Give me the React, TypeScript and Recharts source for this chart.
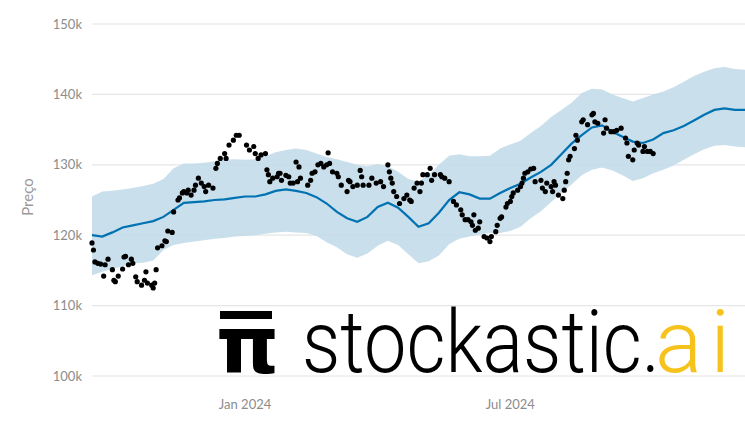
import React from "react";
import {
  ComposedChart,
  Area,
  Line,
  Scatter,
  XAxis,
  YAxis,
  CartesianGrid,
} from "recharts";

const DAY = 86400000;
const START = Date.UTC(2023, 8, 18);

// weekly forecast (yhat + interval), in thousands
const fcYhat = [
  120.0, 119.8, 120.4, 121.1, 121.4, 121.7, 122.0, 122.6, 123.6, 124.6,
  124.7, 124.8, 125.0, 125.1, 125.3, 125.5, 125.5, 125.8, 126.3, 126.5,
  126.3, 126.0, 125.4, 124.5, 123.3, 122.4, 121.9, 122.6, 124.0, 124.6,
  123.9, 122.6, 121.2, 121.7, 123.2, 125.0, 126.1, 125.8, 125.2, 125.2,
  126.0, 126.7, 127.3, 128.2, 129.0, 130.0, 131.5, 133.0, 134.2, 135.3,
  135.6, 134.7, 134.0, 133.3, 133.1, 133.6, 134.5, 134.9, 135.5, 136.3,
  137.1, 137.8, 138.0, 137.8, 137.8,
];
const fcUpper = [
  125.5, 126.2, 126.3, 126.5, 126.7, 127.0, 127.3, 128.0, 129.5, 130.2,
  130.2, 130.3, 130.5, 130.7, 130.8, 130.7, 130.8, 131.2, 131.8, 132.1,
  132.3, 132.1, 131.6, 131.1, 130.8, 130.4, 130.0, 129.8, 130.1, 129.8,
  129.0, 128.0, 127.6, 128.6, 130.0, 131.3, 131.5, 131.2, 131.2, 131.3,
  132.3, 132.9, 133.4, 134.5, 135.5, 136.8, 137.8, 138.8, 140.2, 140.8,
  140.7, 140.0, 139.5, 139.0, 139.5, 140.0, 140.4, 141.0, 141.8, 142.6,
  143.2, 143.7, 143.9, 143.6, 143.5,
];
const fcLower = [
  114.3, 114.8, 115.2, 115.6, 116.0, 116.1, 116.4, 117.9, 118.6, 118.9,
  119.1, 119.3, 119.5, 119.6, 119.8, 119.9, 120.0, 120.2, 120.4, 120.5,
  120.4, 120.3, 119.9, 119.0, 118.3, 117.3, 116.8, 117.4, 118.5, 119.2,
  118.6, 117.3, 116.0, 116.3, 117.1, 118.7, 119.5, 119.8, 120.1, 120.3,
  120.3, 120.6, 121.2, 122.4, 123.4, 124.7, 126.0, 127.2, 128.5, 129.3,
  129.6, 129.2, 128.5, 127.7, 128.1, 128.8, 129.3, 129.9, 130.7, 131.5,
  132.2, 132.7, 132.8, 132.6, 132.5,
];

// observed prices: day offset from START, price in thousands
const obsDay = [
  0, 1, 2, 4, 6, 8, 9, 11, 14, 15, 16, 18, 21, 22, 23, 25, 27, 28, 30, 31,
  34, 36, 37, 38, 41, 42, 43, 44, 45, 48, 50, 51, 52, 55, 56, 59, 60, 62, 63, 65,
  66, 68, 70, 71, 73, 75, 77, 78, 80, 83, 85, 86, 88, 91, 92, 94, 97, 99, 101, 106,
  108, 111, 112, 114, 116, 119, 120, 121, 122, 124, 127, 128, 129, 130, 133, 135, 136, 138, 140, 141,
  142, 143, 148, 150, 151, 153, 155, 157, 159, 161, 162, 163, 165, 168, 169, 171, 175, 176, 177, 179,
  182, 184, 185, 186, 190, 192, 195, 198, 200, 203, 204, 205, 206, 207, 209, 211, 214, 216, 218, 219,
  221, 223, 225, 226, 227, 230, 232, 233, 235, 239, 240, 242, 245, 248, 250, 253, 254, 256, 258, 260,
  261, 262, 263, 265, 266, 269, 271, 273, 274, 277, 278, 280, 281, 284, 285, 287, 288, 289, 292, 294,
  295, 296, 297, 299, 301, 303, 304, 308, 309, 311, 312, 315, 316, 317, 318, 320, 323, 324, 325, 326,
  327, 328, 331, 332, 333, 336, 337, 340, 343, 344, 345, 347, 351, 352, 353, 356, 358, 360, 363, 366,
  367, 368, 371, 372, 374, 375, 378, 379, 381, 383, 385,
];
const obsPrice = [
  118.9, 117.9, 116.2, 116.0, 115.9, 114.2, 115.8, 116.6, 115.1, 113.6, 113.4, 114.2, 115.2, 116.9, 117.0, 115.8, 116.6, 116.0, 114.1, 113.4,
  112.9, 113.6, 114.8, 113.2, 112.9, 112.5, 113.2, 115.1, 118.2, 118.5, 119.2, 119.1, 120.6, 120.4, 123.3, 125.0, 125.3, 126.0, 126.2, 126.0,
  126.4, 125.7, 126.4, 127.1, 128.1, 127.4, 126.9, 126.2, 127.1, 126.7, 129.5, 130.2, 130.9, 131.6, 130.9, 132.8, 133.5, 134.2, 134.2, 132.8,
  132.1, 132.6, 131.6, 130.9, 131.4, 131.6, 129.3, 128.6, 127.6, 128.1, 128.3, 128.8, 128.8, 127.8, 128.5, 128.3, 127.4, 127.4, 130.4, 127.6,
  129.7, 128.1, 127.1, 127.8, 128.8, 129.0, 130.0, 130.2, 129.7, 130.0, 131.7, 130.2, 129.0, 128.8, 128.3, 127.1, 126.2, 127.8, 127.6, 126.9,
  127.1, 129.2, 128.3, 127.1, 127.1, 128.1, 127.4, 127.6, 126.9, 130.0, 129.0, 128.1, 127.4, 126.2, 125.5, 124.5, 125.2, 125.7, 125.0, 124.8,
  126.7, 127.4, 126.2, 127.4, 128.6, 128.6, 129.5, 127.8, 128.6, 128.6, 128.3, 128.1, 127.6, 124.8, 124.3, 123.6, 122.9, 122.2, 122.2, 121.9,
  121.4, 122.9, 120.7, 121.0, 121.9, 119.8, 119.6, 119.1, 119.8, 120.5, 121.4, 122.4, 122.6, 124.0, 124.5, 124.8, 125.5, 126.0, 126.4, 126.9,
  127.4, 128.1, 128.8, 129.0, 129.4, 129.5, 127.6, 127.8, 126.7, 126.2, 127.4, 126.9, 126.2, 127.6, 127.1, 125.7, 125.2, 126.4, 127.6, 128.8,
  130.7, 131.2, 132.3, 134.2, 133.5, 136.1, 136.4, 135.7, 137.1, 137.3, 136.1, 135.9, 134.5, 136.4, 135.2, 134.7, 134.7, 134.9, 135.2, 133.8,
  133.1, 131.2, 130.7, 132.1, 133.1, 132.8, 131.9, 132.6, 131.9, 131.9, 131.6,
];

const xTicks = [Date.UTC(2024, 0, 1), Date.UTC(2024, 6, 1)];
const xTickLabels = ["Jan 2024", "Jul 2024"];
const yTicks = [100000, 110000, 120000, 130000, 140000, 150000];

const forecast = fcYhat.map((v, i) => ({
  t: START + i * 7 * DAY,
  yhat: v * 1000,
  band: [fcLower[i] * 1000, fcUpper[i] * 1000],
}));

const observed = obsDay.map((d, i) => ({
  t: START + d * DAY,
  price: obsPrice[i] * 1000,
}));

const tickStyle = { fill: "#8c8c8c", fontSize: 13, fontFamily: "Lato" };

const PriceLabel = (props: any) => {
  const vb = props.viewBox || {};
  const cx = 27;
  const cy = vb.y + vb.height / 2 - 3;
  return (
    <text
      x={cx}
      y={cy}
      transform={`rotate(-90 ${cx} ${cy})`}
      textAnchor="middle"
      dominantBaseline="central"
      fill="#9a9a9a"
      fontSize={15}
      fontFamily="Lato"
    >
      Preço
    </text>
  );
};

const Dot = (p: any) => <circle cx={p.cx} cy={p.cy} r={2.6} fill="#000" />;

export default function App() {
  return (
    <div style={{ position: "fixed", left: 0, top: 0, width: 745, height: 422, background: "#fff" }}>
      <ComposedChart
        width={745}
        height={422}
        data={forecast}
        margin={{ top: 24, right: 0, bottom: 16, left: 0 }}
      >
        <CartesianGrid vertical={false} stroke="#e6e6e6" strokeWidth={1.2} />
        <XAxis
          dataKey="t"
          type="number"
          domain={[forecast[0].t, forecast[forecast.length - 1].t]}
          ticks={xTicks}
          tickFormatter={(v: number) => xTickLabels[xTicks.indexOf(v)]}
          axisLine={false}
          tickLine={false}
          tickSize={0}
          tickMargin={24}
          height={30}
          tick={tickStyle}
        />
        <YAxis
          type="number"
          domain={[100000, 150000]}
          ticks={yTicks}
          tickFormatter={(v: number) => `${v / 1000}k`}
          axisLine={false}
          tickLine={false}
          tickSize={0}
          tickMargin={10}
          width={92}
          tick={tickStyle}
          label={<PriceLabel />}
        />
        <Area
          dataKey="band"
          stroke="none"
          fill="#c3dbea"
          fillOpacity={0.9}
          isAnimationActive={false}
        />
        <Line
          dataKey="yhat"
          type="linear"
          stroke="#0072b2"
          strokeWidth={2.2}
          dot={false}
          isAnimationActive={false}
        />
        <Scatter
          data={observed}
          dataKey="price"
          shape={<Dot />}
          isAnimationActive={false}
        />
      </ComposedChart>
      <svg
        width={745}
        height={422}
        style={{ position: "absolute", left: 0, top: 0, pointerEvents: "none" }}
      >
        <rect x={220} y={311} width={52} height={8} fill="#000" />
        <text x={216} y={373} fontSize={80} fontWeight={700} fontFamily="DejaVu Sans" fill="#000">
          π
        </text>
        <text
          transform="translate(302 372) scale(0.86 1)"
          x={0}
          y={0}
          fontSize={88}
          fontWeight={300}
          fontFamily="Roboto"
          fill="#000"
        >
          stockastic.
        </text>
        <text
          transform="translate(655 372)"
          x={0}
          y={0}
          fontSize={88}
          fontWeight={300}
          fontFamily="Roboto"
          fill="#f6c21c"
          letterSpacing={8}
        >
          ai
        </text>
      </svg>
    </div>
  );
}
